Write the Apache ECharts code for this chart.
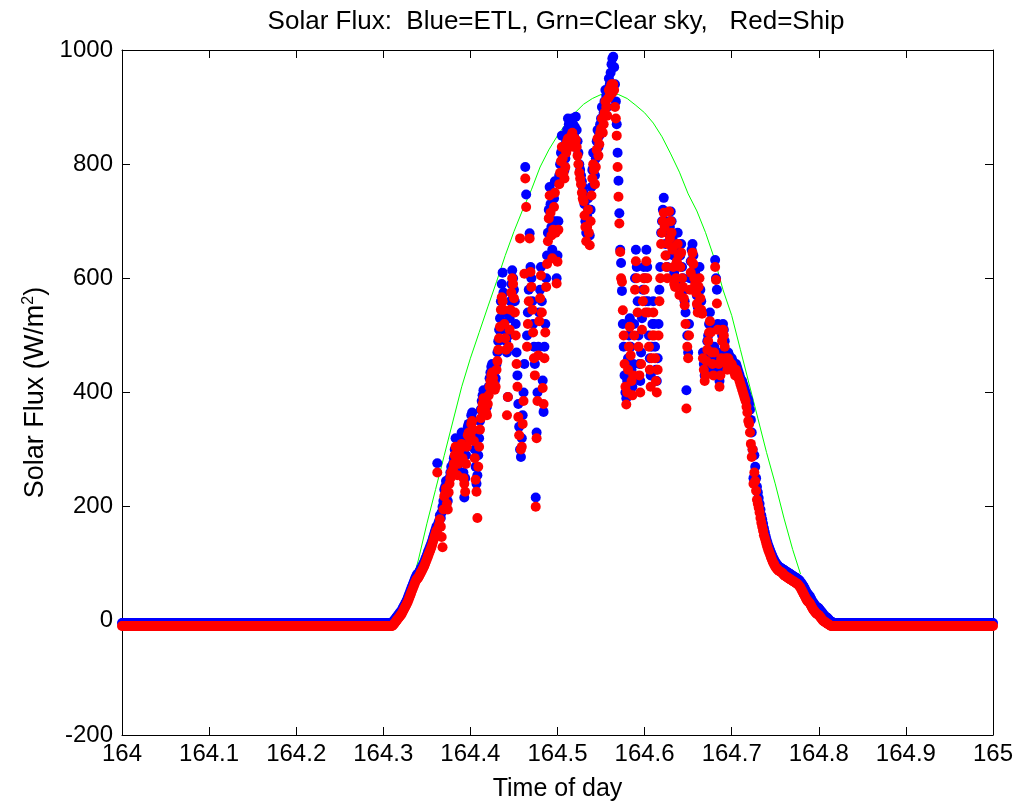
<!DOCTYPE html>
<html><head><meta charset="utf-8">
<script src="https://cdn.jsdelivr.net/npm/echarts@6/dist/echarts.min.js"></script>
<style>html,body{margin:0;padding:0;background:#fff}#c{width:1019px;height:807px}</style>
</head><body><div id="c"></div>
<script>
// ---- data ----
const stepDay = 0.001;
const segmentStarts = [164.000, 164.300, 164.820];

const etlAmNight = [
-4,-4,-4,-4,-4,-4,-4,-4,-4,-4,-4,-4,-4,-4,-4,-4,-4,-4,-4,-4,
-4,-4,-4,-4,-4,-4,-4,-4,-4,-4,-4,-4,-4,-4,-4,-4,-4,-4,-4,-4,
-4,-4,-4,-4,-4,-4,-4,-4,-4,-4,-4,-4,-4,-4,-4,-4,-4,-4,-4,-4,
-4,-4,-4,-4,-4,-4,-4,-4,-4,-4,-4,-4,-4,-4,-4,-4,-4,-4,-4,-4,
-4,-4,-4,-4,-4,-4,-4,-4,-4,-4,-4,-4,-4,-4,-4,-4,-4,-4,-4,-4,
-4,-4,-4,-4,-4,-4,-4,-4,-4,-4,-4,-4,-4,-4,-4,-4,-4,-4,-4,-4,
-4,-4,-4,-4,-4,-4,-4,-4,-4,-4,-4,-4,-4,-4,-4,-4,-4,-4,-4,-4,
-4,-4,-4,-4,-4,-4,-4,-4,-4,-4,-4,-4,-4,-4,-4,-4,-4,-4,-4,-4,
-4,-4,-4,-4,-4,-4,-4,-4,-4,-4,-4,-4,-4,-4,-4,-4,-4,-4,-4,-4,
-4,-4,-4,-4,-4,-4,-4,-4,-4,-4,-4,-4,-4,-4,-4,-4,-4,-4,-4,-4,
-4,-4,-4,-4,-4,-4,-4,-4,-4,-4,-4,-4,-4,-4,-4,-4,-4,-4,-4,-4,
-4,-4,-4,-4,-4,-4,-4,-4,-4,-4,-4,-4,-4,-4,-4,-4,-4,-4,-4,-4,
-4,-4,-4,-4,-4,-4,-4,-4,-4,-4,-4,-4,-4,-4,-4,-4,-4,-4,-4,-4,
-4,-4,-4,-4,-4,-4,-4,-4,-4,-4,-4,-4,-4,-4,-4,-4,-4,-4,-4,-4,
-4,-4,-4,-4,-4,-4,-4,-4,-4,-4,-4,-4,-4,-4,-4,-4,-4,-4,-4,-4
];
const shipAmNight = [
-9,-9,-9,-9,-9,-9,-9,-9,-9,-9,-9,-9,-9,-9,-9,-9,-9,-9,-9,-9,
-9,-9,-9,-9,-9,-9,-9,-9,-9,-9,-9,-9,-9,-9,-9,-9,-9,-9,-9,-9,
-9,-9,-9,-9,-9,-9,-9,-9,-9,-9,-9,-9,-9,-9,-9,-9,-9,-9,-9,-9,
-9,-9,-9,-9,-9,-9,-9,-9,-9,-9,-9,-9,-9,-9,-9,-9,-9,-9,-9,-9,
-9,-9,-9,-9,-9,-9,-9,-9,-9,-9,-9,-9,-9,-9,-9,-9,-9,-9,-9,-9,
-9,-9,-9,-9,-9,-9,-9,-9,-9,-9,-9,-9,-9,-9,-9,-9,-9,-9,-9,-9,
-9,-9,-9,-9,-9,-9,-9,-9,-9,-9,-9,-9,-9,-9,-9,-9,-9,-9,-9,-9,
-9,-9,-9,-9,-9,-9,-9,-9,-9,-9,-9,-9,-9,-9,-9,-9,-9,-9,-9,-9,
-9,-9,-9,-9,-9,-9,-9,-9,-9,-9,-9,-9,-9,-9,-9,-9,-9,-9,-9,-9,
-9,-9,-9,-9,-9,-9,-9,-9,-9,-9,-9,-9,-9,-9,-9,-9,-9,-9,-9,-9,
-9,-9,-9,-9,-9,-9,-9,-9,-9,-9,-9,-9,-9,-9,-9,-9,-9,-9,-9,-9,
-9,-9,-9,-9,-9,-9,-9,-9,-9,-9,-9,-9,-9,-9,-9,-9,-9,-9,-9,-9,
-9,-9,-9,-9,-9,-9,-9,-9,-9,-9,-9,-9,-9,-9,-9,-9,-9,-9,-9,-9,
-9,-9,-9,-9,-9,-9,-9,-9,-9,-9,-9,-9,-9,-9,-9,-9,-9,-9,-9,-9,
-9,-9,-9,-9,-9,-9,-9,-9,-9,-9,-9,-9,-9,-9,-9,-9,-9,-9,-9,-9
];

// 164.300 ... 164.819, one value per 0.001 day
const etlDay = [
-4,-4,-4,-4,-4,-4,-4,-4,-4,-4,
-3,-2,0,2,4,6,8,10,12,14,
16,18,21,24,27,30,33,36,40,44,
48,52,56,60,64,68,72,76,79,82,
82,85,88,91,94,97,100,103,107,111,
115,119,123,127,131,135,140,145,150,155,
160,165,276,170,175,185,180,190,200,210,
230,235,245,220,210,240,250,260,270,265,
275,285,300,320,290,270,285,300,310,320,
330,300,260,216,250,290,320,340,345,335,
340,360,365,350,330,300,270,240,255,290,
320,350,370,385,395,404,400,390,380,375,
395,410,425,435,445,450,440,430,420,425,
450,470,490,510,530,560,590,610,575,540,
510,490,470,392,500,530,560,590,614,600,
580,560,520,470,430,380,340,300,287,320,
360,400,450,795,747,500,540,580,679,620,
600,560,520,480,450,216,330,400,480,540,
580,620,560,421,366,480,520,600,640,680,
720,760,730,690,650,700,740,770,700,600,
640,700,780,800,820,850,830,800,790,810,
840,860,880,870,850,860,875,880,870,850,
865,883,860,840,820,800,790,780,770,760,
750,730,700,680,710,740,700,675,720,760,
790,820,800,780,810,840,860,830,850,870,
880,900,870,890,910,930,920,900,930,950,
940,960,975,985,988,970,940,910,870,820,
771,714,650,627,578,520,480,430,400,390,
420,460,500,530,480,440,410,450,520,600,
650,620,560,500,450,420,470,530,580,620,
600,560,650,620,560,500,460,430,480,520,
560,520,480,440,420,460,520,580,620,680,
700,720,741,700,660,640,620,680,700,690,
717,700,670,640,610,600,620,650,680,660,
590,640,660,620,600,580,560,540,404,500,
470,520,600,630,650,660,640,620,610,590,
570,550,600,620,580,560,540,470,450,430,
440,470,490,500,520,540,520,480,460,440,
480,632,600,580,520,460,420,440,470,500,
520,510,490,470,460,450,470,465,455,460,
460,455,450,445,440,450,445,440,435,430,
425,420,420,415,410,405,400,395,390,387,
380,370,352,330,300,250,290,270,250,235,
225,215,205,195,185,178,170,162,155,148,
142,137,132,128,124,120,116,112,109,106,
103,101,99,97,95,94,93,92,91,90,
89,88,87,86,85,84,83,82,81,80,
79,78,77,76,75,74,73,72,70,68,
66,64,62,59,56,53,50,48,46,44,
42,39,36,33,31,29,27,25,24,23,
22,20,18,16,14,12,10,8,7,6,
5,3,1,0,-1,-2,-3,-4,-4,-4
];
const shipDay = [
-9,-9,-9,-9,-9,-9,-9,-9,-9,-9,
-9,-8,-6,-4,-2,0,2,4,6,8,
10,12,15,18,21,24,27,30,33,37,
41,45,49,53,57,61,65,69,72,74,
75,78,81,84,87,90,93,96,100,104,
108,112,116,120,124,128,133,138,143,148,
153,158,260,162,168,178,165,147,129,195,
218,222,232,205,195,225,240,250,260,255,
265,275,290,305,280,255,275,290,300,305,
310,285,250,240,226,275,305,325,330,320,
325,345,350,335,315,285,247,226,180,270,
305,335,355,370,380,390,385,375,365,360,
380,395,410,420,430,435,425,415,405,410,
440,455,475,495,515,545,567,560,545,520,
495,475,360,392,480,510,545,575,600,590,
565,540,500,450,410,357,325,670,300,305,
345,385,608,775,725,480,520,560,670,611,
585,545,505,460,430,200,320,385,465,525,
565,605,540,408,380,460,505,585,625,665,
705,745,715,675,635,685,725,750,680,591,
629,685,765,785,805,830,810,785,775,795,
820,840,845,842,830,835,850,855,842,830,
845,842,830,815,800,785,775,765,750,740,
735,710,690,665,690,720,680,658,700,745,
775,800,790,765,795,825,845,815,835,855,
862,880,855,870,890,910,900,885,915,930,
920,935,940,925,940,930,900,880,850,795,
743,696,646,600,594,544,500,450,410,379,
400,440,480,515,465,420,395,430,500,580,
630,600,540,480,430,400,450,510,560,600,
580,540,630,600,540,480,440,410,460,500,
540,500,460,420,400,440,500,560,600,660,
680,700,715,690,640,620,600,660,717,670,
700,680,650,620,590,585,600,630,660,640,
571,620,645,600,585,565,553,520,372,480,
460,500,580,610,630,645,625,600,590,575,
555,540,585,600,565,545,538,460,440,420,
430,455,475,490,505,525,505,470,450,430,
470,620,597,556,510,450,410,430,460,490,
510,500,480,460,450,440,460,455,445,450,
450,445,440,435,430,440,435,430,425,420,
415,410,405,400,395,390,385,375,365,350,
345,330,310,287,300,240,260,245,228,212,
205,198,190,180,172,165,158,150,145,140,
134,129,124,120,116,112,108,104,101,98,
95,93,91,89,88,87,86,85,84,82,
80,79,78,77,76,75,74,73,72,71,
70,69,68,67,66,65,64,62,60,58,
55,52,49,46,43,40,37,35,33,32,
30,27,24,21,19,17,15,13,12,11,
10,8,6,4,2,0,-1,-2,-3,-4,
-5,-6,-7,-8,-9,-9,-9,-9,-9,-9
];

// 164.820 ... 165.000
const etlPmNight = [
-4,-4,-4,-4,-4,-4,-4,-4,-4,-4,-4,-4,-4,-4,-4,-4,-4,-4,-4,-4,
-4,-4,-4,-4,-4,-4,-4,-4,-4,-4,-4,-4,-4,-4,-4,-4,-4,-4,-4,-4,
-4,-4,-4,-4,-4,-4,-4,-4,-4,-4,-4,-4,-4,-4,-4,-4,-4,-4,-4,-4,
-4,-4,-4,-4,-4,-4,-4,-4,-4,-4,-4,-4,-4,-4,-4,-4,-4,-4,-4,-4,
-4,-4,-4,-4,-4,-4,-4,-4,-4,-4,-4,-4,-4,-4,-4,-4,-4,-4,-4,-4,
-4,-4,-4,-4,-4,-4,-4,-4,-4,-4,-4,-4,-4,-4,-4,-4,-4,-4,-4,-4,
-4,-4,-4,-4,-4,-4,-4,-4,-4,-4,-4,-4,-4,-4,-4,-4,-4,-4,-4,-4,
-4,-4,-4,-4,-4,-4,-4,-4,-4,-4,-4,-4,-4,-4,-4,-4,-4,-4,-4,-4,
-4,-4,-4,-4,-4,-4,-4,-4,-4,-4,-4,-4,-4,-4,-4,-4,-4,-4,-4,-4,
-4
];
const shipPmNight = [
-9,-9,-9,-9,-9,-9,-9,-9,-9,-9,-9,-9,-9,-9,-9,-9,-9,-9,-9,-9,
-9,-9,-9,-9,-9,-9,-9,-9,-9,-9,-9,-9,-9,-9,-9,-9,-9,-9,-9,-9,
-9,-9,-9,-9,-9,-9,-9,-9,-9,-9,-9,-9,-9,-9,-9,-9,-9,-9,-9,-9,
-9,-9,-9,-9,-9,-9,-9,-9,-9,-9,-9,-9,-9,-9,-9,-9,-9,-9,-9,-9,
-9,-9,-9,-9,-9,-9,-9,-9,-9,-9,-9,-9,-9,-9,-9,-9,-9,-9,-9,-9,
-9,-9,-9,-9,-9,-9,-9,-9,-9,-9,-9,-9,-9,-9,-9,-9,-9,-9,-9,-9,
-9,-9,-9,-9,-9,-9,-9,-9,-9,-9,-9,-9,-9,-9,-9,-9,-9,-9,-9,-9,
-9,-9,-9,-9,-9,-9,-9,-9,-9,-9,-9,-9,-9,-9,-9,-9,-9,-9,-9,-9,
-9,-9,-9,-9,-9,-9,-9,-9,-9,-9,-9,-9,-9,-9,-9,-9,-9,-9,-9,-9,
-9
];

// clear-sky model (visible part)
const clearSkyTime = [164.32,164.33,164.34,164.35,164.36,164.37,164.38,164.39,
164.40,164.41,164.42,164.43,164.44,164.45,164.46,164.47,164.48,164.49,
164.50,164.51,164.52,164.53,164.54,164.55,164.56,164.57,164.58,164.59,
164.60,164.61,164.62,164.63,164.64,164.65,164.66,164.67,164.68,164.69,
164.70,164.71,164.72,164.73,164.74,164.75,164.76,164.77,164.779];
const clearSkyFlux = [15,50,105,170,230,290,350,410,
460,505,550,594,640,682,720,755,795,825,
850,872,890,905,915,922,925,922,915,903,
890,872,848,818,786,748,718,680,635,580,
535,475,415,355,295,240,180,125,82];

const xTicks = {min:164, max:165, interval:0.1};
const yTicks = {min:-200, max:1000, interval:200};

function toPairs(start, values){
  return values.map((v,i)=>[+(start + i*stepDay).toFixed(4), v]);
}
const etlData = [].concat(toPairs(segmentStarts[0], etlAmNight), toPairs(segmentStarts[1], etlDay), toPairs(segmentStarts[2], etlPmNight));
const shipData = [].concat(toPairs(segmentStarts[0], shipAmNight), toPairs(segmentStarts[1], shipDay), toPairs(segmentStarts[2], shipPmNight));
const clearData = clearSkyTime.map((t,i)=>[t, clearSkyFlux[i]]);

const FONT = "'Liberation Sans', Arial, sans-serif";
const chart = echarts.init(document.getElementById('c'), null, {renderer:'canvas'});
const fmtX = v => { const r = Math.round(v*10)/10; return Number.isInteger(r) ? String(r) : r.toFixed(1); };
const fmtY = v => String(Math.round(v));
const axisCommon = {
  axisLine:{show:true, onZero:false, lineStyle:{color:'#000', width:1}},
  axisTick:{show:true, inside:true, length:8, lineStyle:{color:'#000', width:1}},
  splitLine:{show:false}
};
chart.setOption({
  animation:false,
  backgroundColor:'#fff',
  grid:{left:122, right:26, top:50, bottom:72, containLabel:false},
  graphic:[{type:'text', x:556, y:22, style:{text:'Solar Flux:  Blue=ETL, Grn=Clear sky,   Red=Ship', font:'26px ' + FONT, fill:'#000', textAlign:'center', textVerticalAlign:'middle'}}],
  xAxis:[
    Object.assign({type:'value', position:'bottom', min:xTicks.min, max:xTicks.max, interval:xTicks.interval,
      name:'Time of day', nameLocation:'middle', nameGap:42,
      nameTextStyle:{fontFamily:FONT, fontSize:25, color:'#000'},
      axisLabel:{formatter:fmtX, fontFamily:FONT, fontSize:24, color:'#000', margin:7}}, axisCommon),
    Object.assign({type:'value', position:'top', min:xTicks.min, max:xTicks.max, interval:xTicks.interval,
      axisLabel:{show:false}}, axisCommon)
  ],
  yAxis:[
    Object.assign({type:'value', position:'left', min:yTicks.min, max:yTicks.max, interval:yTicks.interval,
      name:'{n|Solar Flux (W/m}{s|2}{n|)}', nameLocation:'middle', nameGap:64,
      nameTextStyle:{color:'#000', rich:{n:{fontFamily:FONT, fontSize:27, color:'#000'}, s:{fontFamily:FONT, fontSize:16, color:'#000', padding:[0,0,14,0]}}},
      axisLabel:{formatter:fmtY, fontFamily:FONT, fontSize:24, color:'#000', margin:9}}, axisCommon),
    Object.assign({type:'value', position:'right', min:yTicks.min, max:yTicks.max, interval:yTicks.interval,
      axisLabel:{show:false}}, axisCommon)
  ],
  series:[
    {name:'Clear sky', type:'line', data:clearData, showSymbol:false, symbol:'none', xAxisIndex:0, yAxisIndex:0,
      lineStyle:{color:'#00ff00', width:1}, z:1},
    {name:'ETL', type:'scatter', data:etlData, symbol:'circle', symbolSize:10, clip:false,
      itemStyle:{color:'#0000ff', opacity:1}, z:2},
    {name:'Ship', type:'scatter', data:shipData, symbol:'circle', symbolSize:10, clip:false,
      itemStyle:{color:'#ff0000', opacity:1}, z:3}
  ]
});
</script></body></html>
